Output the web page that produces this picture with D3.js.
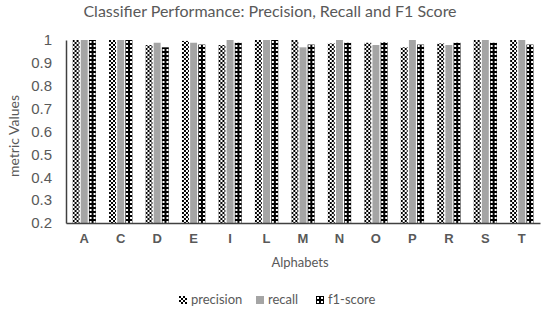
<!DOCTYPE html>
<html>
<head>
<meta charset="utf-8">
<script src="https://cdn.jsdelivr.net/npm/d3@7"></script>
<style>
  body { margin: 0; background: #fff; }
  svg { display: block; }
</style>
</head>
<body>
<svg id="chart" width="550" height="324"></svg>
<script>
var letters = ['A','C','D','E','I','L','M','N','O','P','R','S','T'];
var series = ['precision','recall','f1-score'];
var precision = [1.00, 1.00, 0.978, 0.996, 0.978, 1.00, 1.00, 0.985, 0.988, 0.968, 0.985, 1.00, 1.00];
var recall    = [1.00, 1.00, 0.988, 0.988, 1.00, 1.00, 0.968, 1.00, 0.978, 1.00, 0.978, 1.00, 1.00];
var f1score   = [1.00, 1.00, 0.968, 0.98, 0.988, 1.00, 0.98, 0.988, 0.99, 0.98, 0.988, 0.988, 0.98];
var yTicks = [0.2, 0.3, 0.4, 0.5, 0.6, 0.7, 0.8, 0.9, 1];

var svg = d3.select('#chart');
var textColor = '#595959';

// patterns
var defs = svg.append('defs');
var p1 = defs.append('pattern').attr('id','patPrec').attr('patternUnits','userSpaceOnUse')
  .attr('width',4).attr('height',4);
p1.append('rect').attr('width',4).attr('height',4).attr('fill','#fff');
p1.append('rect').attr('x',0).attr('y',0).attr('width',2).attr('height',2).attr('fill','#000');
p1.append('rect').attr('x',2).attr('y',2).attr('width',2).attr('height',2).attr('fill','#000');

var p3 = defs.append('pattern').attr('id','patF1').attr('patternUnits','userSpaceOnUse')
  .attr('width',4).attr('height',4);
p3.append('rect').attr('width',4).attr('height',4).attr('fill','#000');
p3.append('rect').attr('x',1).attr('y',1).attr('width',2).attr('height',2).attr('fill','#fff');

var fills = ['url(#patPrec)', '#a5a5a5', 'url(#patF1)'];

var x = d3.scaleBand().domain(letters).range([66, 540]).paddingInner(0.36).paddingOuter(0.18);
var xs = d3.scaleBand().domain(series).range([0, x.bandwidth()]).paddingInner(0.15);
var y = d3.scaleLinear().domain([0.2, 1]).range([223, 40]);

var data = letters.map(function(l, i) {
  return { letter: l, vals: [precision[i], recall[i], f1score[i]] };
});

// bars
var g = svg.append('g').selectAll('g').data(data).join('g')
  .attr('transform', function(d) { return 'translate(' + x(d.letter) + ',0)'; });
g.selectAll('rect').data(function(d) { return d.vals.map(function(v, j) { return {s: series[j], v: v, j: j}; }); })
  .join('rect')
  .attr('x', function(d) { return xs(d.s); })
  .attr('width', xs.bandwidth())
  .attr('y', function(d) { return y(d.v); })
  .attr('height', function(d) { return y(0.2) - y(d.v); })
  .attr('fill', function(d) { return fills[d.j]; });

// axes
var yAxis = svg.append('g').attr('transform','translate(66,0)')
  .call(d3.axisLeft(y).tickValues(yTicks).tickSize(0).tickPadding(14).tickFormat(d3.format('')));
yAxis.select('.domain').attr('stroke','#404040').attr('stroke-width',1.5);
yAxis.selectAll('text').attr('fill', textColor).style('font-family','Liberation Sans, Arial, sans-serif').style('font-size','15px');

var xAxis = svg.append('g').attr('transform','translate(0,223)')
  .call(d3.axisBottom(x).tickSize(0).tickPadding(11));
xAxis.select('.domain').attr('stroke','#404040').attr('stroke-width',1.5);
xAxis.selectAll('text').attr('fill', textColor).style('font-family','Liberation Sans, Arial, sans-serif')
  .style('font-size','13px').style('font-weight','bold');

// titles
svg.append('text').attr('x', 270).attr('y', 17).attr('text-anchor','middle')
  .attr('fill', textColor).style('font-family','Lato, Open Sans, sans-serif').style('font-size','16px')
  .text('Classifier Performance: Precision, Recall and F1 Score');

svg.append('text').attr('x', 300).attr('y', 267).attr('text-anchor','middle')
  .attr('fill', textColor).style('font-family','Lato, Open Sans, sans-serif').style('font-size','13px')
  .text('Alphabets');

svg.append('text').attr('transform','translate(19,136) rotate(-90)').attr('text-anchor','middle')
  .attr('fill', textColor).style('font-family','Lato, Open Sans, sans-serif').style('font-size','14px')
  .text('metric Values');

// legend
var legX = [179, 256, 316];
var leg = svg.append('g').selectAll('g').data(series).join('g')
  .attr('transform', function(d, i) { return 'translate(' + legX[i] + ',300)'; });
leg.append('rect').attr('width',8).attr('height',8).attr('y',-4)
  .attr('fill', function(d, i) { return fills[i]; });
leg.append('text').attr('x', 12).attr('y', 4)
  .attr('fill', textColor).style('font-family','Lato, Open Sans, sans-serif').style('font-size','13px')
  .text(function(d) { return d; });
</script>
</body>
</html>
